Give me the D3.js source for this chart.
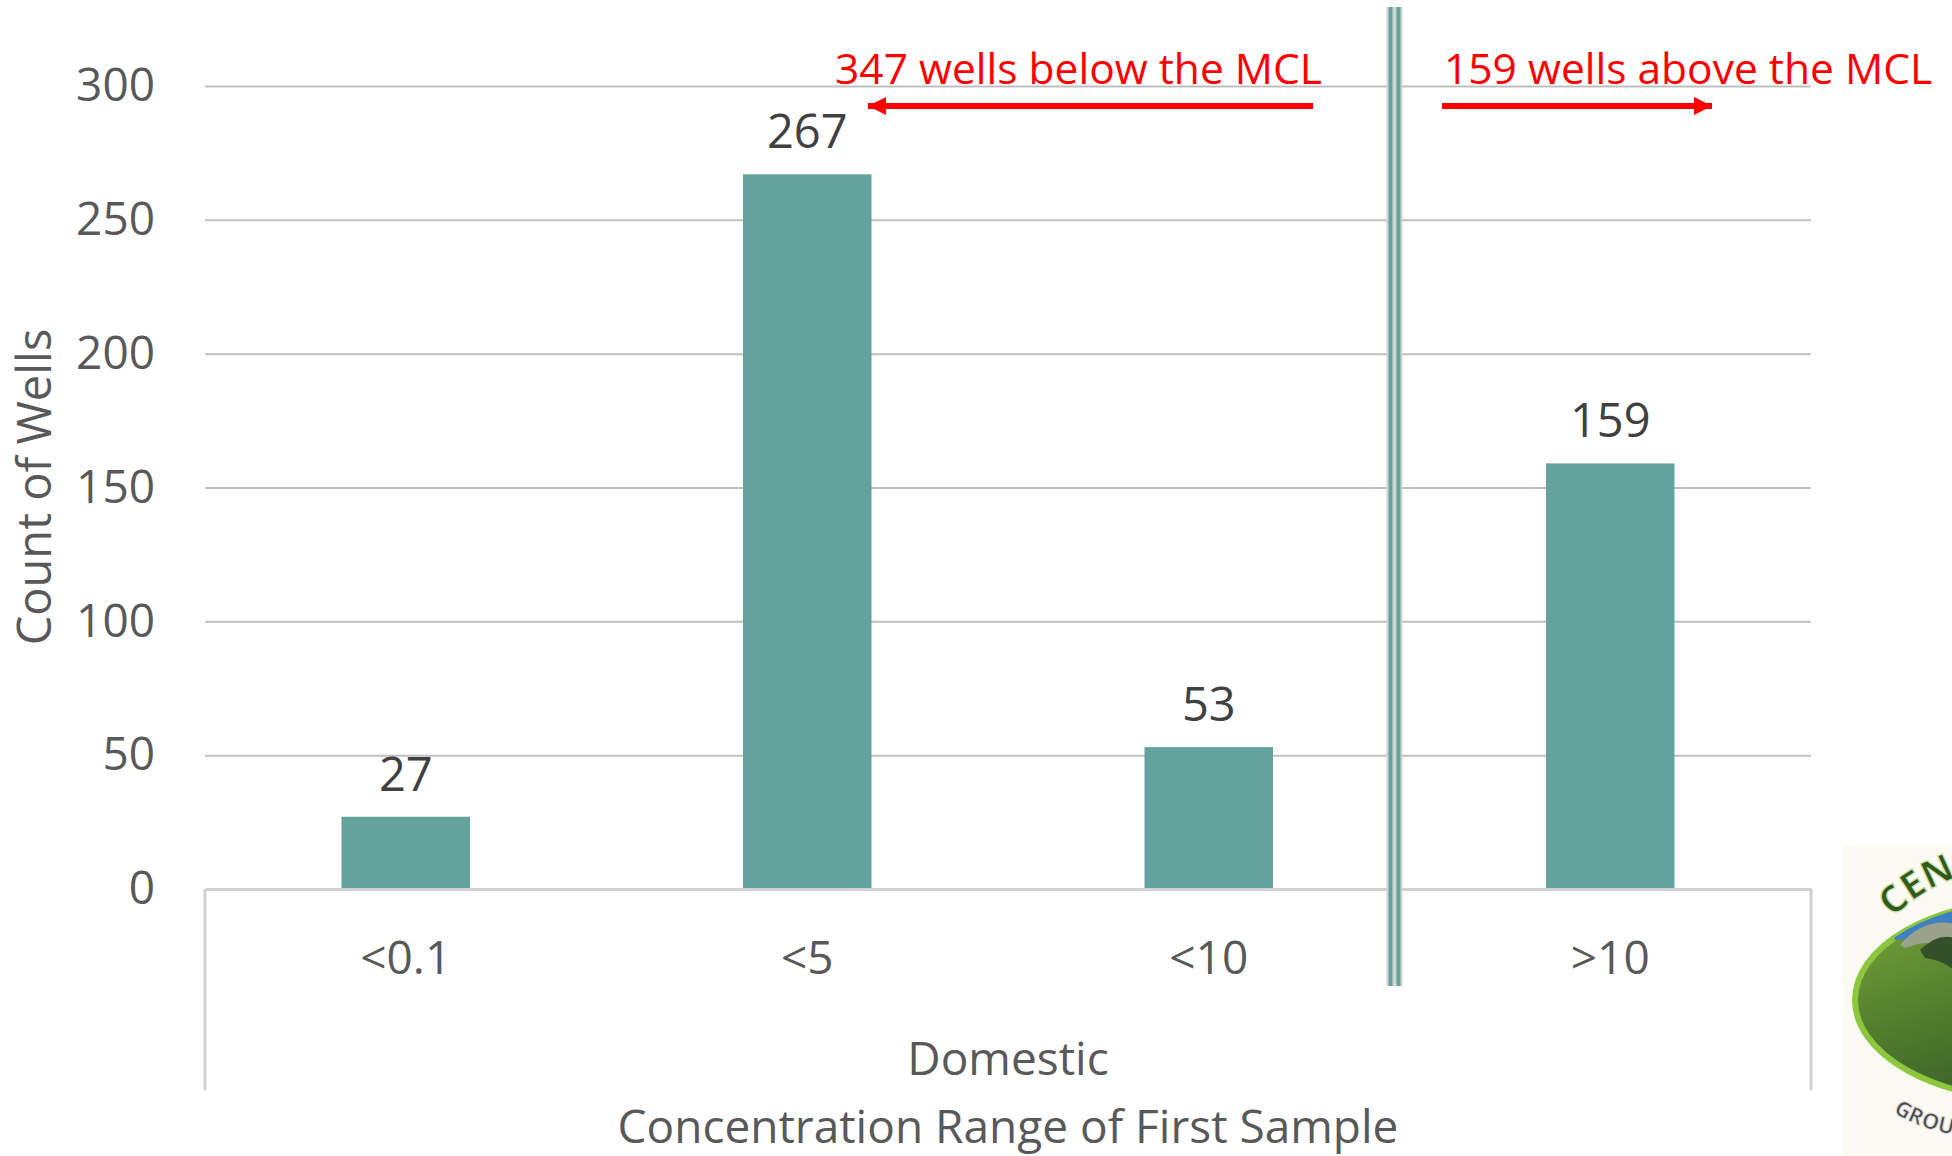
<!DOCTYPE html>
<html>
<head>
<meta charset="utf-8">
<script src="https://cdn.jsdelivr.net/npm/d3@7"></script>
<style>
  body { margin: 0; background: #fff; }
  svg { display: block; font-family: "Open Sans", sans-serif; }
</style>
</head>
<body>
<div id="container"></div>
<script>
let w = 1952;
let h = 1156;
let margin = { top: 86, right: 141, bottom: 267, left: 205 };

// data
let categories = ['<0.1', '<5', '<10', '>10'];
let wellCounts = [27, 267, 53, 159];
let yTicks = [0, 50, 100, 150, 200, 250, 300];
let groupLabel = 'Domestic';
let xTitle = 'Concentration Range of First Sample';
let yTitle = 'Count of Wells';
let belowNote = '347 wells below the MCL';
let aboveNote = '159 wells above the MCL';

let barColor = '#63a29d';
let textColor = '#595959';
let gridColor = '#bfbfbf';
let frameColor = '#d0d0d0';
let red = '#ff0000';
let fs = '46px';

let viz = d3.select('#container')
  .append('svg')
    .attr('width', w)
    .attr('height', h);

let xScale = d3.scaleBand()
  .domain(categories)
  .range([margin.left, w - margin.right])
  .paddingInner(0.68)
  .paddingOuter(0.34);

let yScale = d3.scaleLinear()
  .domain([0, 300])
  .range([h - margin.bottom, margin.top]);

//gridlines
viz.append('g')
  .attr('transform', 'translate(' + margin.left + ',0)')
  .call(d3.axisLeft(yScale).tickValues(yTicks.slice(1)).tickSize(-(w - margin.left - margin.right)).tickFormat(''))
  .call(g => g.select('.domain').remove())
  .call(g => g.selectAll('text').remove())
  .call(g => g.selectAll('line').attr('stroke', gridColor).attr('stroke-width', 2));

//y tick labels
viz.append('g')
  .attr('transform', 'translate(' + 155 + ',0)')
  .call(d3.axisLeft(yScale).tickValues(yTicks).tickSize(0).tickPadding(0))
  .call(g => g.select('.domain').remove())
  .call(g => g.selectAll('text')
    .attr('fill', textColor)
    .style('font-size', fs)
    .style('font-family', '"Open Sans", sans-serif'));

//frame under the axis (category box)
let x0 = margin.left, x1 = w - margin.right, y0 = yScale(0), yBottom = 1090;
viz.append('path')
  .attr('d', 'M' + x0 + ',' + yBottom + 'V' + y0 + 'M' + x1 + ',' + yBottom + 'V' + y0)
  .attr('stroke', frameColor)
  .attr('stroke-width', 3)
  .attr('fill', 'none');

//bars
viz.selectAll('.bar').data(wellCounts)
  .enter()
  .append('rect')
    .attr('class', 'bar')
    .attr('x', (d, i) => xScale(categories[i]))
    .attr('y', d => yScale(d))
    .attr('width', xScale.bandwidth())
    .attr('height', d => yScale(0) - yScale(d))
    .attr('fill', barColor);

//value labels
viz.selectAll('.vlabel').data(wellCounts)
  .enter()
  .append('text')
    .attr('class', 'vlabel')
    .attr('x', (d, i) => xScale(categories[i]) + xScale.bandwidth() / 2)
    .attr('y', d => yScale(d) - 26)
    .attr('text-anchor', 'middle')
    .attr('fill', '#404040')
    .style('font-size', '47px')
    .text(d => d);

//x axis
viz.append('g')
  .attr('transform', 'translate(0,' + y0 + ')')
  .call(d3.axisBottom(xScale).tickSize(0).tickPadding(52))
  .call(g => g.select('.domain').attr('stroke', frameColor).attr('stroke-width', 3))
  .call(g => g.selectAll('text')
    .attr('fill', textColor)
    .style('font-size', fs)
    .style('font-family', '"Open Sans", sans-serif'));

let midX = (x0 + x1) / 2;
viz.append('text')
  .attr('x', midX).attr('y', 1075)
  .attr('text-anchor', 'middle')
  .attr('fill', textColor)
  .style('font-size', fs)
  .text(groupLabel);

viz.append('text')
  .attr('x', midX).attr('y', 1143)
  .attr('text-anchor', 'middle')
  .attr('fill', textColor)
  .style('font-size', fs)
  .text(xTitle);

viz.append('text')
  .attr('transform', 'translate(51,' + 487 + ') rotate(-90)')
  .attr('text-anchor', 'middle')
  .attr('fill', textColor)
  .style('font-size', '47px')
  .text(yTitle);

//divider between below / above MCL
let divX = xScale(categories[3]) - xScale.step() * xScale.paddingInner() / 2 - 15;
viz.append('rect')
  .attr('x', divX - 8).attr('y', 7)
  .attr('width', 16).attr('height', 979)
  .attr('fill', '#d4d4d4');
[-4, 4].forEach(off => {
  viz.append('line')
    .attr('x1', divX + off).attr('x2', divX + off)
    .attr('y1', 7).attr('y2', 986)
    .attr('stroke', barColor)
    .attr('stroke-width', 4);
});

//red annotations
let defs = viz.append('defs');
defs.append('marker')
  .attr('id', 'head')
  .attr('viewBox', '0 0 10 10')
  .attr('refX', 10).attr('refY', 5)
  .attr('markerWidth', 3).attr('markerHeight', 3)
  .attr('orient', 'auto')
  .append('path')
    .attr('d', 'M0,0L10,5L0,10Z')
    .attr('fill', red);

viz.append('text')
  .attr('x', 1322).attr('y', 84)
  .attr('text-anchor', 'end')
  .attr('fill', red)
  .style('font-size', '42.5px')
  .text(belowNote);

viz.append('line')
  .attr('x1', 1313).attr('y1', 106)
  .attr('x2', 868).attr('y2', 106)
  .attr('stroke', red).attr('stroke-width', 6)
  .attr('marker-end', 'url(#head)');

viz.append('text')
  .attr('x', 1444).attr('y', 84)
  .attr('fill', red)
  .style('font-size', '42.5px')
  .text(aboveNote);

viz.append('line')
  .attr('x1', 1442).attr('y1', 106)
  .attr('x2', 1712).attr('y2', 106)
  .attr('stroke', red).attr('stroke-width', 6)
  .attr('marker-end', 'url(#head)');

//logo in the corner (cut off by page edge)
let logo = viz.append('g');
let grad = defs.append('linearGradient')
  .attr('id', 'hill').attr('x1', 0).attr('y1', 0).attr('x2', 0.6).attr('y2', 1);
grad.append('stop').attr('offset', '0%').attr('stop-color', '#7aa63c');
grad.append('stop').attr('offset', '55%').attr('stop-color', '#4f7a2c');
grad.append('stop').attr('offset', '100%').attr('stop-color', '#36552a');
defs.append('clipPath').attr('id', 'logoClip')
  .append('ellipse').attr('cx', 2035).attr('cy', 1000).attr('rx', 180).attr('ry', 100);

logo.append('rect')
  .attr('x', 1842).attr('y', 846)
  .attr('width', 110).attr('height', 310)
  .attr('fill', '#fbfaf2');
logo.append('ellipse')
  .attr('cx', 2035).attr('cy', 1000).attr('rx', 180).attr('ry', 100)
  .attr('fill', 'url(#hill)')
  .attr('stroke', '#8dc63f').attr('stroke-width', 6);
let inner = logo.append('g').attr('clip-path', 'url(#logoClip)');
inner.append('path')
  .attr('d', 'M1880,900 L1960,900 L1960,960 Q1930,935 1895,940 Z')
  .attr('fill', '#3f7fc4');
inner.append('path')
  .attr('d', 'M1900,945 Q1925,915 1960,925 L1960,955 Q1935,935 1905,948 Z')
  .attr('fill', '#9aa38a');
inner.append('path')
  .attr('d', 'M1920,950 Q1940,930 1960,940 L1960,975 Q1945,960 1925,958 Z')
  .attr('fill', '#33502a');

defs.append('path').attr('id', 'arcTop')
  .attr('d', 'M1893,918 Q1925,885 1975,872');
defs.append('path').attr('id', 'arcBot')
  .attr('d', 'M1893,1112 Q1920,1130 1960,1136');
logo.append('text')
  .attr('fill', '#2f5a1c').attr('stroke', '#c9dca8').attr('stroke-width', 1.2)
  .style('font-size', '38px').style('font-weight', 'bold')
  .append('textPath').attr('href', '#arcTop').text('CEN');
logo.append('text')
  .attr('fill', '#4a4a4a').attr('stroke', '#ddd').attr('stroke-width', 1)
  .style('font-size', '22px').style('font-weight', 'bold')
  .append('textPath').attr('href', '#arcBot').text('GROU');
</script>
</body>
</html>
